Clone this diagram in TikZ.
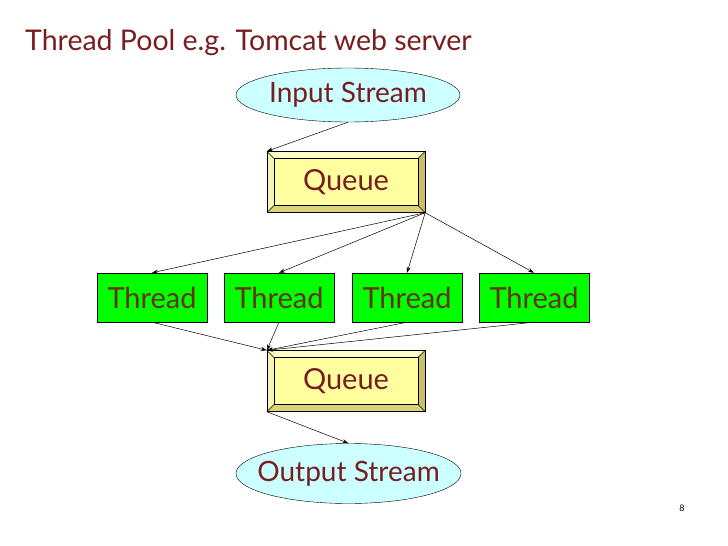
\documentclass[tikz,border=0pt]{standalone}
\usepackage{fontspec}
\setmainfont{Lato}
\usetikzlibrary{shapes.geometric,arrows.meta}
\definecolor{txtred}{RGB}{120,30,30}
\definecolor{thrtxt}{RGB}{100,50,20}
\definecolor{cyanfill}{RGB}{204,255,255}
\definecolor{qface}{RGB}{255,255,160}
\definecolor{qtop}{RGB}{255,255,200}
\definecolor{qleft}{RGB}{245,245,180}
\definecolor{qright}{RGB}{200,190,105}
\definecolor{qbottom}{RGB}{220,210,125}
\definecolor{thrgreen}{RGB}{0,255,0}
\tikzset{
  streamnode/.style={ellipse, draw, fill=cyanfill, thin, text=txtred, font=\fontsize{28}{32}\selectfont, inner sep=0pt},
  threadnode/.style={rectangle, draw, fill=thrgreen, thin, text=thrtxt, minimum width=110pt, minimum height=49pt, font=\fontsize{29}{32}\selectfont, inner sep=0pt},
  queuebox/.style={rectangle, draw, thin, fill=qface, text=txtred, minimum width=158pt, minimum height=61pt, font=\fontsize{29}{32}\selectfont, inner sep=0pt,
    path picture={
      \coordinate (nw) at (path picture bounding box.north west);
      \coordinate (ne) at (path picture bounding box.north east);
      \coordinate (sw) at (path picture bounding box.south west);
      \coordinate (se) at (path picture bounding box.south east);
      \coordinate (inw) at ([shift={(7pt,-7pt)}]nw);
      \coordinate (ine) at ([shift={(-7pt,-7pt)}]ne);
      \coordinate (isw) at ([shift={(7pt,7pt)}]sw);
      \coordinate (ise) at ([shift={(-7pt,7pt)}]se);
      \fill[qtop] (nw) -- (ne) -- (ine) -- (inw) -- cycle;
      \fill[qleft] (nw) -- (inw) -- (isw) -- (sw) -- cycle;
      \fill[qright] (ne) -- (se) -- (ise) -- (ine) -- cycle;
      \fill[qbottom] (sw) -- (isw) -- (ise) -- (se) -- cycle;
      \draw[line width=0.5pt] (inw) rectangle (ise);
      \draw[line width=0.5pt] (nw) -- (inw) (ne) -- (ine) (sw) -- (isw) (se) -- (ise);
    }},
  conn/.style={-{Stealth[length=6pt,width=4pt]}, line width=0.5pt}
}
\begin{document}
\begin{tikzpicture}[x=1pt,y=-1pt]
\useasboundingbox[fill=white] (0,0) rectangle (728,546);
\node[anchor=base west, text=txtred, font=\fontsize{28.5}{32}\selectfont, inner sep=0pt] (title) at (25,50) {Thread Pool e.g. Tomcat web server};
\node[streamnode, minimum width=224pt, minimum height=54pt] (in) at (348,95) {\makebox[0pt]{Input Stream}};
\node[queuebox] (q1) at (346,182) {Queue};
\node[threadnode] (t1) at (152,297.5) {Thread};
\node[threadnode] (t2) at (279,297.5) {Thread};
\node[threadnode] (t3) at (407,297.5) {Thread};
\node[threadnode] (t4) at (534,297.5) {Thread};
\node[queuebox] (q2) at (346,381) {Queue};
\node[streamnode, minimum width=225pt, minimum height=60pt] (out) at (348.5,473.5) {\makebox[0pt]{Output Stream}};
\node[font=\fontsize{9}{11}\selectfont, inner sep=0pt] (pg) at (682,508) {8};
\draw[conn] (in.south) -- (q1.north west);
\foreach \t in {t1,t2,t3,t4} {
  \draw[conn] (q1.south east) -- (\t.north);
  \draw[conn] (\t.south) -- (q2.north west);
}
\draw[conn] (q2.south west) -- (out.north);
\end{tikzpicture}
\end{document}
